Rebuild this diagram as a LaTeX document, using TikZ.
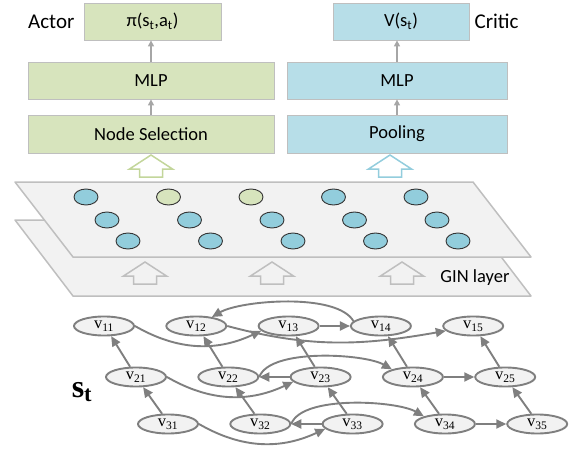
\documentclass[tikz,border=0pt]{standalone}
\usepackage{fontspec}
\setmainfont{Carlito}
\newfontfamily\graphfont{Liberation Serif}
\usetikzlibrary{positioning, arrows.meta, shapes.geometric}
\definecolor{boxgreen}{HTML}{D7E4BD}
\definecolor{boxblue}{HTML}{B7DEE8}
\definecolor{dotblue}{HTML}{92CDDC}
\definecolor{arrowgreen}{HTML}{C3D69B}
\definecolor{arrowblue}{HTML}{93CDDD}
\definecolor{lightline}{HTML}{BFBFBF}
\definecolor{planefill}{HTML}{F2F2F2}
\definecolor{edgegray}{HTML}{7F7F7F}
\tikzset{
		net box/.style={
			rectangle,
			draw=lightline,
			line width=0.8pt,
			minimum height=37pt,
			inner sep=0pt,
			font=\fontsize{18.5}{22}\selectfont
		},
		flow/.style={draw=black!35, line width=1.4pt, -{Triangle[length=6pt,width=6pt]}},
		embed/.style={
			ellipse,
			draw=black!80,
			line width=0.9pt,
			minimum width=24pt,
			minimum height=16pt,
			inner sep=0pt
		},
		plane/.style={draw=lightline, fill=planefill, line width=1.5pt, line join=round},
		jobop/.style={
			ellipse,
			draw=edgegray,
			fill=planefill,
			line width=1.9pt,
			minimum width=60pt,
			minimum height=19pt,
			inner sep=0pt,
			font=\graphfont\fontsize{16.5}{18}\selectfont
		},
		edge/.style={draw=edgegray, line width=1.9pt, -{Triangle[length=10pt,width=9pt]}},
		pics/uparrow/.style={code={
			\path[pic actions] (-11.5,0) -- (-11.5,8) -- (-21.5,8) -- (0,22) -- (21.5,8) -- (11.5,8) -- (11.5,0) -- cycle;
		}}
	}
\begin{document}
\begin{tikzpicture}[x=1pt, y=1pt]
			\useasboundingbox (0,0) rectangle (579,451);
			% actor and critic heads
			\node[net box, fill=boxgreen, minimum width=137pt] (pi) at (152.5,429.5) {π(s\textsubscript{t},a\textsubscript{t})};
			\node[net box, fill=boxgreen, minimum width=246pt] (amlp) at (151,370.5) {MLP};
			\node[net box, fill=boxgreen, minimum width=246pt, minimum height=38pt] (select) at (151,317) {Node Selection};
			\node[net box, fill=boxblue, minimum width=136pt] (value) at (401,429.5) {V(s\textsubscript{t})};
			\node[net box, fill=boxblue, minimum width=220pt] (cmlp) at (397,370.5) {MLP};
			\node[net box, fill=boxblue, minimum width=220pt, minimum height=38pt] (pool) at (397,317) {Pooling};
			\node[left=9pt of pi, inner sep=0pt, font=\fontsize{21}{24}\selectfont] (actor) {Actor};
			\node[right=5pt of value, inner sep=0pt, font=\fontsize{21}{24}\selectfont] (critic) {Critic};
			\draw[flow] (select.north) -- (amlp.south);
			\draw[flow] (amlp.north) -- (amlp.north |- pi.south);
			\draw[flow] (pool.north) -- (cmlp.south);
			\draw[flow] (cmlp.north) -- (cmlp.north |- value.south);
			% GIN layers
			\draw[plane] (15,231) -- (473,231) -- (531,155) -- (73,155) -- cycle;
			\foreach \x [count=\k] in {145,272,402}
				\pic[draw=lightline, line width=1.5pt] (gin\k) at (\x,167) {uparrow};
			\node[font=\fontsize{18.5}{22}\selectfont] (gin) at (475,173) {GIN layer};
			\draw[plane] (15,269) -- (473,269) -- (531,194) -- (73,194) -- cycle;
			\foreach \c/\col in {1/dotblue,2/boxgreen,3/boxgreen,4/dotblue,5/dotblue}
				\node[embed, fill=\col] (h1\c) at ({3.5+82.5*\c},254) {};
			\foreach \r/\y in {2/231,3/210}
				\foreach \c in {1,...,5}
					\node[embed, fill=dotblue] (h\r\c) at ({3.5+21*(\r-1)+82.5*\c},\y) {};
			\pic[draw=arrowgreen, fill=white, line width=1.5pt] (toselect) at (151,274) {uparrow};
			\pic[draw=arrowblue, fill=white, line width=1.5pt] (topool) at (390,274) {uparrow};
			% disjunctive graph
			\foreach \i/\y in {1/125,2/74,3/27}
				\foreach \j in {1,...,5}
					\node[jobop] (v\i\j) at ({104+32*(\i-1)+92.3*(\j-1)},\y) {v\textsubscript{\i\j}};
			\node[font=\graphfont\bfseries\fontsize{32}{36}\selectfont] (state) at (82,59) {s\textsubscript{t}};
			\foreach \src/\dst in {21/11,31/21,22/12,32/22,23/13,33/23,24/14,34/24,25/15,35/25}
				\draw[edge] (v\src.120) -- (v\dst.-55);
			\foreach \src/\dst in {13/14,23/22,33/32,24/25,34/35}
				\draw[edge] (v\src) -- (v\dst);
			\draw[edge] (v11.east) to[out=-30, in=205] (v13.190);
			\draw[edge] (v21.east) to[out=-30, in=205] (v23.190);
			\draw[edge] (v31.east) to[out=-30, in=205] (v33.190);
			\draw[edge] (v12.east) to[out=-15, in=190] (v15.190);
			\draw[edge] (v14.170) to[out=120, in=30, looseness=0.6] (v12.30);
			\draw[edge] (v22.east) to[out=70, in=150, looseness=0.6] (v24.160);
			\draw[edge] (v32.east) to[out=70, in=150, looseness=0.6] (v34.160);
\end{tikzpicture}
\end{document}
